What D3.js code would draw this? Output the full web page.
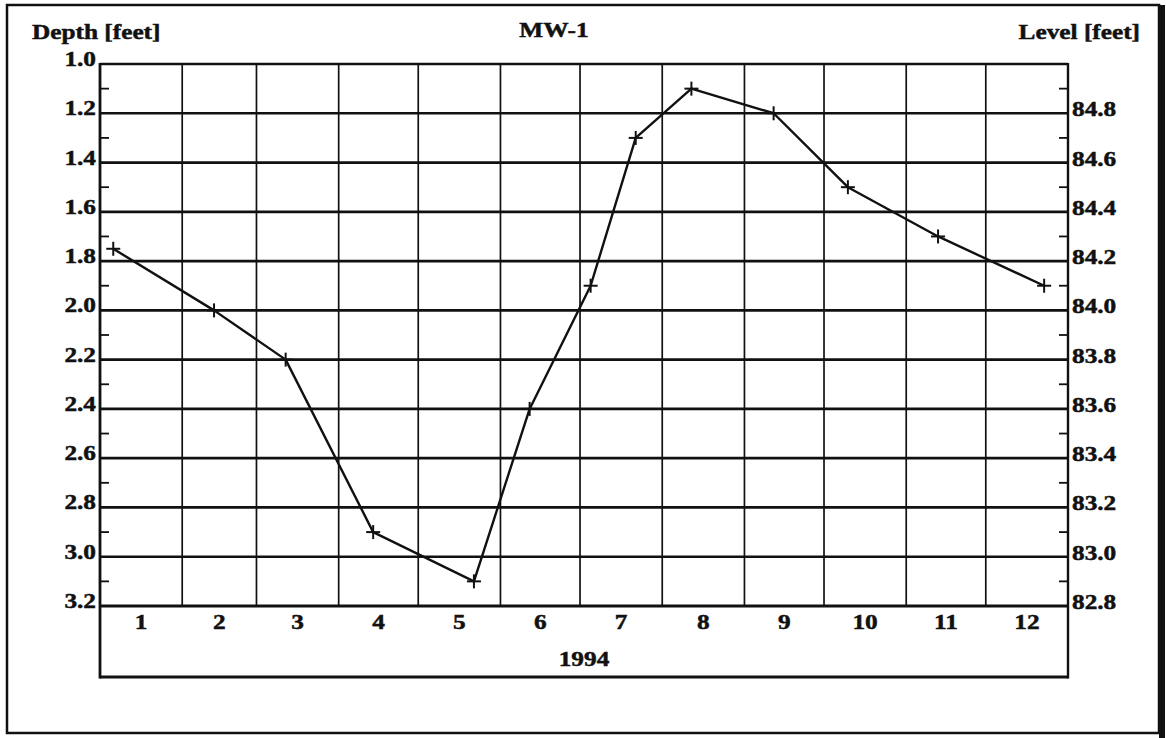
<!DOCTYPE html>
<html>
<head>
<meta charset="utf-8">
<script src="https://cdn.jsdelivr.net/npm/d3@7/dist/d3.min.js"></script>
<style>
  html, body { margin: 0; padding: 0; background: #fff; }
  svg { display: block; }
  text { font-family: "Liberation Serif", "Times New Roman", serif; font-weight: bold; fill: #111;
         stroke: #111; stroke-width: 0.5px; }
</style>
</head>
<body>
<svg id="chart" width="1166" height="738"></svg>
<script>
// Water level at monitoring well MW-1, 1994
const sampleDates = ["1994-01-06", "1994-02-13", "1994-03-12", "1994-04-14", "1994-05-22",
                     "1994-06-12", "1994-07-05", "1994-07-22", "1994-08-12", "1994-09-12",
                     "1994-10-10", "1994-11-13", "1994-12-23"];
const depthFeet = [1.75, 2.0, 2.2, 2.9, 3.1, 2.4, 1.9, 1.3, 1.1, 1.2, 1.5, 1.7, 1.9];

const depthTicks = [1.0, 1.2, 1.4, 1.6, 1.8, 2.0, 2.2, 2.4, 2.6, 2.8, 3.0, 3.2];
const depthMinorTicks = [1.1, 1.3, 1.5, 1.7, 1.9, 2.1, 2.3, 2.5, 2.7, 2.9, 3.1];
const levelTicks = [84.8, 84.6, 84.4, 84.2, 84.0, 83.8, 83.6, 83.4, 83.2, 83.0, 82.8];
const levelMinorTicks = [84.9, 84.7, 84.5, 84.3, 84.1, 83.9, 83.7, 83.5, 83.3, 83.1, 82.9];
const monthLabels = ["1", "2", "3", "4", "5", "6", "7", "8", "9", "10", "11", "12"];
const yearLabel = "1994";

const svg = d3.select("#chart");
const L = 100, R = 1068, T = 64, B = 606, BOX = 677;
const SX = 1.15;           // horizontal stretch of the lettering
const FS = 22;

const parse = d3.timeParse("%Y-%m-%d");
const data = sampleDates.map((d, i) => ({ date: parse(d), depth: depthFeet[i] }));

const x = d3.scaleTime().domain([new Date(1994, 0, 1), new Date(1995, 0, 1)]).range([L, R]);
const y = d3.scaleLinear().domain([1.0, 3.2]).range([T, B]);
const yLevel = d3.scaleLinear().domain([85.0, 82.8]).range([T, B]);

function label(g, txt, px, py, anchor, size) {
  g.append("text")
    .attr("transform", `translate(${px},${py}) scale(${SX},1)`)
    .attr("text-anchor", anchor)
    .style("font-size", (size || FS) + "px")
    .text(txt);
}

// outer frame
svg.append("rect").attr("x", 7).attr("y", 5).attr("width", 1152).attr("height", 728)
  .attr("fill", "none").attr("stroke", "#111").attr("stroke-width", 2.5);
svg.append("line").attr("x1", 1162).attr("x2", 1162).attr("y1", 5).attr("y2", 738)
  .attr("stroke", "#111").attr("stroke-width", 6);

const grid = svg.append("g");

// month boundaries
const monthStarts = d3.timeMonth.range(new Date(1994, 1, 1), new Date(1995, 0, 1));
grid.selectAll("line.v").data(monthStarts).join("line")
  .attr("x1", d => x(d)).attr("x2", d => x(d))
  .attr("y1", T).attr("y2", B)
  .attr("stroke", "#111").attr("stroke-width", 1.7);

// depth gridlines
grid.selectAll("line.h").data(depthTicks).join("line")
  .attr("x1", L).attr("x2", R)
  .attr("y1", d => y(d)).attr("y2", d => y(d))
  .attr("stroke", "#111").attr("stroke-width", d => (d === 3.2 ? 3.2 : 2.7));

// minor ticks, left and right
grid.selectAll("line.ml").data(depthMinorTicks).join("line")
  .attr("x1", L).attr("x2", L + 9)
  .attr("y1", d => y(d)).attr("y2", d => y(d))
  .attr("stroke", "#111").attr("stroke-width", 1.8);
grid.selectAll("line.mr").data(levelMinorTicks).join("line")
  .attr("x1", R - 9).attr("x2", R)
  .attr("y1", d => yLevel(d)).attr("y2", d => yLevel(d))
  .attr("stroke", "#111").attr("stroke-width", 1.8);

// plot and date-axis frame
grid.append("line").attr("x1", L).attr("x2", L).attr("y1", T - 1).attr("y2", BOX + 1.5)
  .attr("stroke", "#111").attr("stroke-width", 2.8);
grid.append("line").attr("x1", R).attr("x2", R).attr("y1", T - 1).attr("y2", BOX + 1.5)
  .attr("stroke", "#111").attr("stroke-width", 2.4);
grid.append("line").attr("x1", L).attr("x2", R).attr("y1", BOX).attr("y2", BOX)
  .attr("stroke", "#111").attr("stroke-width", 3);

// tick labels
const labels = svg.append("g");
depthTicks.forEach(d => label(labels, d.toFixed(1), 96, y(d) + 2, "end"));
levelTicks.forEach(d => label(labels, d.toFixed(1), 1072, yLevel(d) + 3, "start"));

const monthAll = d3.timeMonth.range(new Date(1994, 0, 1), new Date(1995, 0, 1));
monthAll.forEach((m, i) => {
  const cx = (x(m) + x(d3.timeMonth.offset(m, 1))) / 2;
  label(labels, monthLabels[i], cx, 629, "middle");
});
label(labels, yearLabel, (L + R) / 2, 666, "middle");

// titles
label(labels, "MW-1", 554, 37, "middle");
label(labels, "Depth [feet]", 32, 39, "start");
label(labels, "Level [feet]", 1140, 39, "end");

// series
const line = d3.line().x(d => x(d.date)).y(d => y(d.depth));
svg.append("path").datum(data).attr("d", line)
  .attr("fill", "none").attr("stroke", "#111").attr("stroke-width", 2.4)
  .attr("stroke-linejoin", "round");

const arm = 7;
const marks = svg.append("g").selectAll("g").data(data).join("g")
  .attr("transform", d => `translate(${x(d.date)},${y(d.depth)})`);
marks.append("line").attr("x1", -arm).attr("x2", arm).attr("y1", 0).attr("y2", 0)
  .attr("stroke", "#111").attr("stroke-width", 2);
marks.append("line").attr("x1", 0).attr("x2", 0).attr("y1", -arm).attr("y2", arm)
  .attr("stroke", "#111").attr("stroke-width", 2);
</script>
</body>
</html>
